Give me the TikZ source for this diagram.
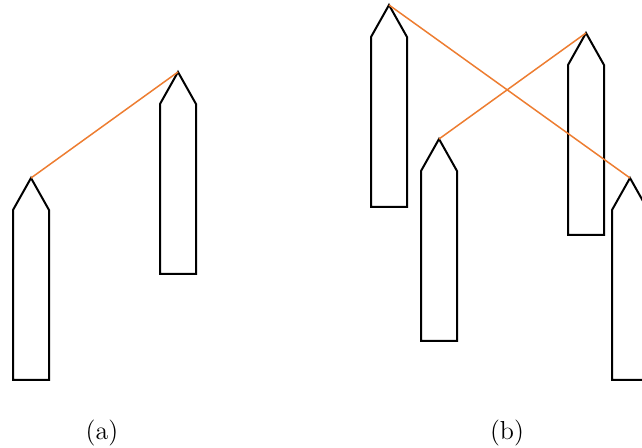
\documentclass[tikz,border=0pt]{standalone}
\definecolor{lineorange}{RGB}{237,125,49}
\tikzset{
  pencil/.style={draw=black, line width=1pt, line join=miter},
  link/.style={draw=lineorange, line width=0.75pt},
  caption/.style={font=\fontsize{13}{15}\selectfont, inner sep=0pt}
}
% #1 = name, #2 = tip x, #3 = tip y
\newcommand{\pencilshape}[3]{%
  \draw[pencil] (#2,#3) -- (#2+18,#3+32) -- (#2+18,#3+202) -- (#2-18,#3+202) -- (#2-18,#3+32) -- cycle;
  \coordinate (#1) at (#2,#3);
}
\begin{document}
\begin{tikzpicture}[x=0.5pt,y=-0.5pt]
\useasboundingbox (0,0) rectangle (642,448);
% (a)
\pencilshape{a1}{31}{178}
\pencilshape{a2}{178}{72}
\draw[link] (a1) -- (a2);
% (b)
\pencilshape{b1}{389}{5}
\pencilshape{b2}{439}{139}
\pencilshape{b3}{586}{33}
\pencilshape{b4}{630}{178}
\draw[link] (b1) -- (b4);
\draw[link] (b2) -- (b3);
\node[caption] (capa) at (102,433) {(a)};
\node[caption] (capb) at (507,433) {(b)};
\end{tikzpicture}
\end{document}
